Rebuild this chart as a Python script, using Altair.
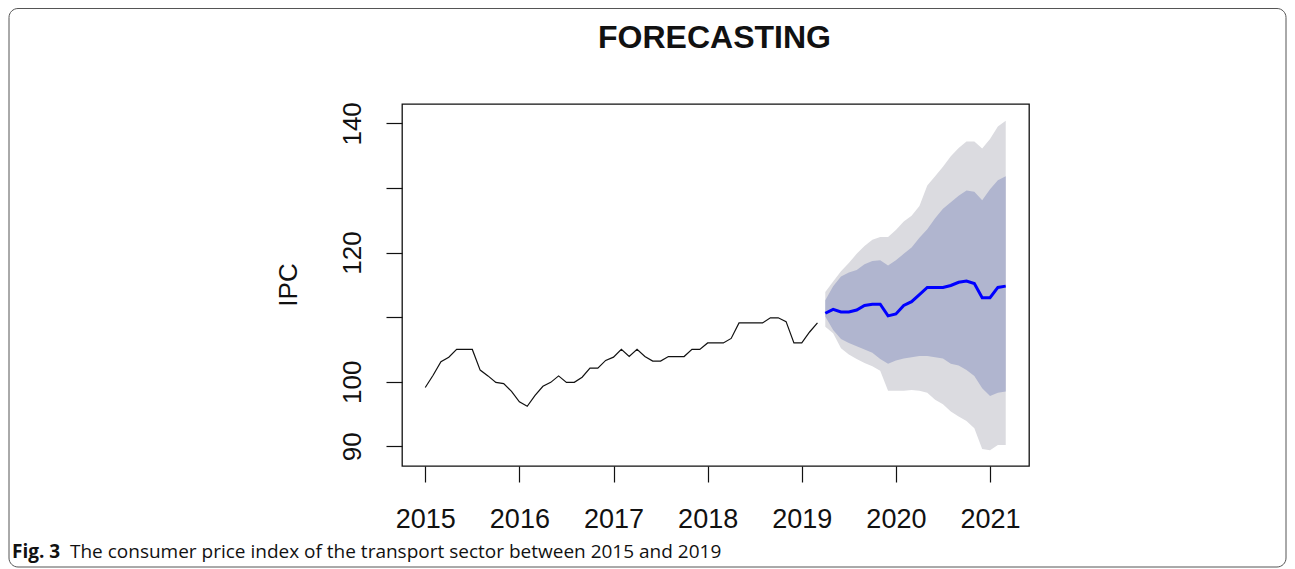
import altair as alt
import pandas as pd

# ---- data ----
hist_start = 2015.0
hist_values = [99.1, 101.0, 103.1, 103.8, 105.0, 105.0, 105.0, 101.8, 100.9, 99.9,
               99.7, 98.5, 96.9, 96.2, 97.9, 99.3, 99.9, 100.9, 99.9, 99.9,
               100.7, 102.1, 102.1, 103.3, 103.8, 105.0, 103.9, 105.0, 103.9, 103.2,
               103.2, 103.9, 103.9, 103.9, 105.0, 105.0, 106.0, 106.0, 106.0, 106.7,
               109.1, 109.1, 109.1, 109.1, 109.9, 109.9, 109.3, 106.0, 106.0, 107.7,
               109.1]

fc_start = 2019.25
fc_mean = [110.6, 111.2, 110.8, 110.8, 111.1, 111.8, 112.0, 112.0, 110.2, 110.5,
           111.8, 112.4, 113.5, 114.6, 114.6, 114.6, 114.9, 115.4, 115.6, 115.2,
           113.0, 113.0, 114.6, 114.8]
fc_hi95 = [113.9, 115.5, 117.1, 118.4, 119.8, 121.0, 122.0, 122.4, 122.4, 123.5,
           124.8, 125.7, 127.2, 130.4, 131.8, 133.3, 134.9, 136.2, 137.2, 137.2,
           136.1, 137.6, 139.5, 140.4]
fc_hi80 = [112.6, 114.8, 116.3, 116.9, 117.3, 118.2, 118.7, 118.8, 118.0, 118.8,
           119.8, 120.8, 122.3, 123.6, 125.3, 126.8, 127.8, 128.8, 129.6, 129.4,
           128.1, 129.8, 131.2, 131.8]
fc_lo80 = [110.1, 108.0, 106.6, 106.0, 105.5, 105.0, 104.5, 103.5, 102.8, 103.3,
           103.6, 103.8, 104.0, 104.0, 103.8, 103.6, 102.8, 102.5, 101.8, 100.9,
           99.0, 97.8, 98.3, 98.5]
fc_lo95 = [108.5, 107.5, 105.2, 104.2, 103.5, 102.9, 102.4, 101.7, 98.6, 98.6,
           98.6, 98.7, 98.6, 98.3, 97.2, 96.5, 95.4, 94.6, 93.9, 92.8,
           89.6, 89.4, 90.2, 90.2]

x_ticks = [2015, 2016, 2017, 2018, 2019, 2020, 2021]
y_ticks = [90, 100, 110, 120, 130, 140]

hist = pd.DataFrame({"t": [hist_start + i / 12 for i in range(len(hist_values))],
                     "v": hist_values})
fc = pd.DataFrame({"t": [fc_start + i / 12 for i in range(len(fc_mean))],
                   "mean": fc_mean, "hi95": fc_hi95, "hi80": fc_hi80,
                   "lo80": fc_lo80, "lo95": fc_lo95})

W, H = 627, 362
xscale = alt.Scale(domain=[2014.753, 2021.414], nice=False, zero=False)
yscale = alt.Scale(domain=[86.95, 143.0], nice=False, zero=False)

FONT = "Liberation Sans"
xaxis = alt.Axis(values=x_ticks, format="d", title=None, grid=False, domain=False,
                 ticks=True, tickSize=16, tickColor="#111", tickWidth=1.2,
                 labelFont=FONT, labelFontSize=27, labelColor="#111",
                 labelBaseline="alphabetic", labelPadding=45, labelFlush=False,
                 labelOverlap=False)
yaxis = alt.Axis(values=y_ticks, title=None, grid=False, domain=False,
                 ticks=True, tickSize=16, tickColor="#111", tickWidth=1.2,
                 labelFont=FONT, labelFontSize=26, labelColor="#111",
                 labelAngle=270, labelAlign="center", labelBaseline="alphabetic",
                 labelPadding=26, labelFlush=False, labelOverlap=False,
                 labelExpr="(datum.value == 110 || datum.value == 130) ? '' : datum.label")

base_fc = alt.Chart(fc)

outer = base_fc.mark_area(color="#DBDBE0", opacity=1).encode(
    x=alt.X("t:Q", scale=xscale, axis=xaxis),
    y=alt.Y("lo95:Q", scale=yscale, axis=yaxis),
    y2="hi95:Q",
)
inner = base_fc.mark_area(color="#B0B5CF", opacity=1).encode(
    x="t:Q", y="lo80:Q", y2="hi80:Q")
mean_line = base_fc.mark_line(color="#0000FF", strokeWidth=3).encode(
    x="t:Q", y="mean:Q")
hist_line = alt.Chart(hist).mark_line(color="#111111", strokeWidth=1.2).encode(
    x="t:Q", y="v:Q")

txt = pd.DataFrame({"a": [0]})
title = alt.Chart(txt).mark_text(text="FORECASTING", font=FONT, fontSize=32,
                                 fontWeight="bold", color="#111", align="center",
                                 baseline="alphabetic").encode(
    x=alt.value(312.5), y=alt.value(-56.5))
ylab = alt.Chart(txt).mark_text(text="IPC", font=FONT, fontSize=26, color="#111",
                                angle=270, align="center", baseline="alphabetic").encode(
    x=alt.value(-105), y=alt.value(181))
cap1 = alt.Chart(txt).mark_text(text="Fig. 3", font="Open Sans", fontSize=19,
                                fontWeight="bold", color="#111", align="left",
                                baseline="alphabetic").encode(
    x=alt.value(-390), y=alt.value(454))
cap2 = alt.Chart(txt).mark_text(
    text="The consumer price index of the transport sector between 2015 and 2019",
    font="Open Sans", fontSize=19, color="#111", align="left",
    baseline="alphabetic").encode(x=alt.value(-332), y=alt.value(454))
frame = alt.Chart(txt).mark_rect(fill="transparent", stroke="#555", strokeWidth=1,
                                 cornerRadius=9).encode(
    x=alt.value(-393), x2=alt.value(884), y=alt.value(-95.5), y2=alt.value(463))

chart = alt.layer(outer, inner, hist_line, mean_line, title, ylab, cap1, cap2, frame).properties(
    width=W, height=H,
    autosize=alt.AutoSizeParams(type="none"),
    padding={"left": 394, "top": 96, "right": 258, "bottom": 103},
).configure_view(stroke="#111", strokeWidth=1.3)

chart.save("out.html", embed_options={"renderer": "svg", "actions": False})
